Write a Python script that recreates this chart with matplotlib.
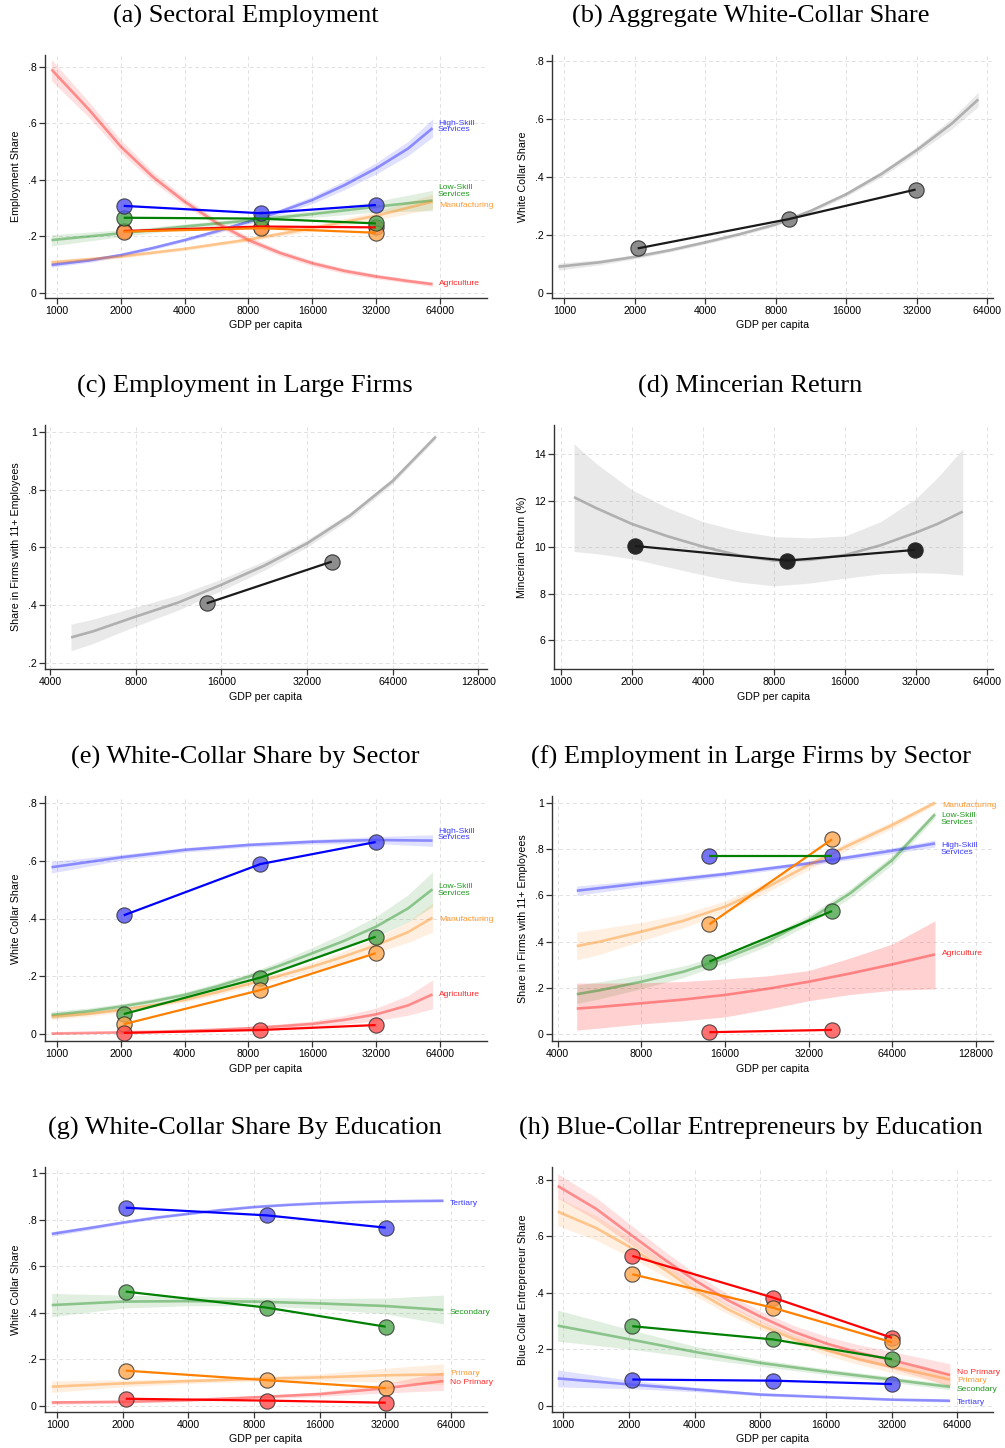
import numpy as np
import matplotlib.pyplot as plt
from matplotlib.ticker import NullLocator

plt.rcParams["font.family"] = ["Liberation Sans", "DejaVu Sans"]

W, H = 1005, 1448

BLUE, GREEN, ORANGE, RED = "#0000ff", "#008000", "#ff8000", "#ff0000"
GRAY = "#8a8a8a"

# ---------------- data ----------------
# fitted curves are read at half-doubling steps of GDP per capita
half_steps = [1414, 2000, 2828, 4000, 5657, 8000, 11314, 16000, 22627, 32000, 45255]

# (a) Sectoral employment
a_bins = [2064, 9145, 31900]
a_hs = [0.307, 0.281, 0.310]
a_ls = [0.265, 0.262, 0.245]
a_mf = [0.216, 0.228, 0.212]
a_ag = [0.218, 0.234, 0.231]
a_fx = [941, 2000, 4000, 8000, 16000, 32000, 59000]
a_fx2 = [941] + half_steps + [59000]
a_ag_fit = [0.790, 0.648, 0.517, 0.410, 0.322, 0.247, 0.186, 0.140, 0.104, 0.077, 0.057, 0.041, 0.030]
a_ag_lo = [0.750, 0.620, 0.495, 0.393, 0.308, 0.236, 0.175, 0.130, 0.094, 0.068, 0.049, 0.034, 0.022]
a_ag_hi = [0.825, 0.675, 0.540, 0.428, 0.337, 0.259, 0.198, 0.150, 0.114, 0.086, 0.066, 0.049, 0.038]
a_hs_fit = [0.098, 0.114, 0.133, 0.158, 0.186, 0.217, 0.251, 0.287, 0.328, 0.380, 0.440, 0.510, 0.582]
a_hs_lo = [0.090, 0.107, 0.127, 0.152, 0.180, 0.210, 0.243, 0.277, 0.315, 0.364, 0.420, 0.485, 0.550]
a_hs_hi = [0.106, 0.121, 0.139, 0.164, 0.193, 0.224, 0.259, 0.297, 0.341, 0.396, 0.460, 0.535, 0.615]
a_ls_fit = [0.186, 0.210, 0.234, 0.255, 0.278, 0.304, 0.326]
a_ls_lo = [0.165, 0.198, 0.225, 0.246, 0.266, 0.285, 0.290]
a_ls_hi = [0.205, 0.222, 0.243, 0.264, 0.290, 0.323, 0.362]
a_mf_fit = [0.107, 0.128, 0.155, 0.188, 0.228, 0.272, 0.322]
a_mf_lo = [0.099, 0.122, 0.149, 0.181, 0.218, 0.257, 0.296]
a_mf_hi = [0.115, 0.134, 0.161, 0.195, 0.238, 0.287, 0.348]

# (b) Aggregate white-collar share
b_bins = [2057, 9075, 31630]
b_wc = [0.153, 0.254, 0.356]
b_fx = [943] + half_steps + [58600]
b_fit = [0.090, 0.105, 0.124, 0.147, 0.174, 0.203, 0.236, 0.283, 0.340, 0.410, 0.492, 0.584, 0.667]
b_lo = [0.078, 0.096, 0.117, 0.141, 0.168, 0.197, 0.230, 0.276, 0.332, 0.400, 0.480, 0.566, 0.642]
b_hi = [0.102, 0.114, 0.131, 0.153, 0.180, 0.209, 0.242, 0.290, 0.348, 0.420, 0.504, 0.602, 0.692]

# (c) Employment in large firms
c_bins = [14210, 39070]
c_lf = [0.407, 0.551]
c_fx = [4740, 5657, 8000, 11314, 16000, 22627, 32000, 45255, 64000, 90700]
c_fit = [0.289, 0.310, 0.361, 0.410, 0.471, 0.537, 0.614, 0.710, 0.830, 0.983]
c_lo = [0.243, 0.268, 0.328, 0.384, 0.451, 0.521, 0.601, 0.699, 0.820, 0.975]
c_hi = [0.335, 0.352, 0.394, 0.436, 0.491, 0.553, 0.627, 0.721, 0.840, 0.991]

# (d) Mincerian return
d_bins = [2064, 9113, 31640]
d_mr = [10.05, 9.42, 9.88]
d_fx = [1139, 1414, 2000, 2828, 4000, 5657, 8000, 11314, 16000, 22627, 32000, 39400, 50350]
d_fit = [12.15, 11.68, 11.00, 10.47, 10.02, 9.65, 9.42, 9.45, 9.66, 10.08, 10.63, 11.00, 11.53]
d_lo = [9.81, 9.72, 9.50, 9.15, 8.80, 8.50, 8.33, 8.45, 8.66, 8.85, 8.90, 8.88, 8.80]
d_hi = [14.45, 13.60, 12.47, 11.70, 11.10, 10.70, 10.45, 10.40, 10.48, 11.10, 12.10, 13.00, 14.22]

# (e) White-collar share by sector
e_bins = [2064, 9110, 31800]
e_hs = [0.411, 0.588, 0.664]
e_ls = [0.070, 0.196, 0.337]
e_mf = [0.035, 0.153, 0.280]
e_ag = [0.005, 0.015, 0.032]
e_fx = [941, 2000, 4000, 8000, 16000, 32000, 59000]
e_fx2 = [941] + half_steps + [59000]
e_hs_fit = [0.577, 0.611, 0.637, 0.654, 0.665, 0.671, 0.669]
e_hs_lo = [0.557, 0.601, 0.629, 0.647, 0.657, 0.659, 0.649]
e_hs_hi = [0.597, 0.621, 0.645, 0.661, 0.673, 0.683, 0.689]
e_ls_fit = [0.067, 0.080, 0.096, 0.114, 0.136, 0.165, 0.199, 0.238, 0.280, 0.323, 0.372, 0.435, 0.501]
e_ls_lo = [0.055, 0.069, 0.086, 0.104, 0.126, 0.154, 0.187, 0.223, 0.260, 0.296, 0.337, 0.388, 0.441]
e_ls_hi = [0.079, 0.091, 0.106, 0.124, 0.146, 0.176, 0.211, 0.253, 0.300, 0.350, 0.407, 0.482, 0.561]
e_mf_fit = [0.061, 0.071, 0.084, 0.100, 0.119, 0.145, 0.174, 0.203, 0.234, 0.269, 0.308, 0.353, 0.403]
e_mf_lo = [0.051, 0.062, 0.076, 0.092, 0.111, 0.136, 0.164, 0.191, 0.219, 0.250, 0.283, 0.317, 0.353]
e_mf_hi = [0.071, 0.080, 0.092, 0.108, 0.127, 0.154, 0.184, 0.215, 0.249, 0.288, 0.333, 0.389, 0.453]
e_ag_fit = [0.003, 0.005, 0.007, 0.009, 0.012, 0.016, 0.021, 0.028, 0.036, 0.050, 0.069, 0.100, 0.138]
e_ag_lo = [0.000, 0.002, 0.004, 0.006, 0.008, 0.011, 0.015, 0.020, 0.026, 0.035, 0.047, 0.066, 0.088]
e_ag_hi = [0.006, 0.008, 0.010, 0.012, 0.016, 0.021, 0.027, 0.036, 0.046, 0.065, 0.091, 0.134, 0.188]

# (f) Employment in large firms by sector
f_bins = [14050, 38810]
f_hs = [0.768, 0.768]
f_ls = [0.314, 0.532]
f_mf = [0.475, 0.842]
f_ag = [0.009, 0.019]
f_fx = [4681, 8000, 16000, 32000, 64000, 91100]
f_fx2 = [4681, 5657, 8000, 11314, 16000, 22627, 32000, 45255, 64000, 91100]
f_hs_fit = [0.620, 0.652, 0.692, 0.738, 0.793, 0.824]
f_hs_lo = [0.600, 0.638, 0.682, 0.728, 0.781, 0.809]
f_hs_hi = [0.640, 0.666, 0.702, 0.748, 0.805, 0.839]
f_mf_fit = [0.381, 0.400, 0.443, 0.490, 0.551, 0.635, 0.731, 0.820, 0.904, 1.000]
f_mf_lo = [0.321, 0.345, 0.403, 0.460, 0.526, 0.613, 0.711, 0.803, 0.889, 0.990]
f_mf_hi = [0.441, 0.455, 0.483, 0.520, 0.576, 0.657, 0.751, 0.837, 0.919, 1.010]
f_ls_fit = [0.173, 0.190, 0.227, 0.270, 0.328, 0.400, 0.494, 0.610, 0.753, 0.950]
f_ls_lo = [0.133, 0.153, 0.197, 0.245, 0.308, 0.380, 0.474, 0.590, 0.733, 0.935]
f_ls_hi = [0.213, 0.227, 0.257, 0.295, 0.348, 0.420, 0.514, 0.630, 0.773, 0.965]
f_ag_fit = [0.111, 0.118, 0.134, 0.150, 0.170, 0.196, 0.227, 0.263, 0.302, 0.345]
f_ag_lo = [0.018, 0.027, 0.045, 0.058, 0.075, 0.108, 0.145, 0.172, 0.190, 0.196]
f_ag_hi = [0.221, 0.221, 0.222, 0.228, 0.239, 0.252, 0.275, 0.330, 0.390, 0.490]

# (g) White-collar share by education
g_bins = [2060, 9144, 32170]
g_te = [0.852, 0.819, 0.766]
g_se = [0.491, 0.422, 0.340]
g_pr = [0.151, 0.110, 0.076]
g_np = [0.030, 0.022, 0.013]
g_fx = [942, 2000, 4000, 8000, 16000, 32000, 59200]
g_fx2 = [942] + half_steps + [59200]
g_te_fit = [0.739, 0.765, 0.788, 0.809, 0.826, 0.842, 0.855, 0.864, 0.871, 0.876, 0.879, 0.881, 0.882]
g_te_lo = [0.729, 0.757, 0.782, 0.803, 0.821, 0.837, 0.850, 0.859, 0.866, 0.871, 0.874, 0.876, 0.876]
g_te_hi = [0.749, 0.773, 0.794, 0.815, 0.831, 0.847, 0.860, 0.869, 0.876, 0.881, 0.884, 0.886, 0.888]
g_se_fit = [0.433, 0.448, 0.450, 0.448, 0.440, 0.429, 0.412]
g_se_lo = [0.383, 0.420, 0.430, 0.430, 0.418, 0.395, 0.352]
g_se_hi = [0.483, 0.476, 0.470, 0.466, 0.462, 0.463, 0.476]
g_pr_fit = [0.082, 0.096, 0.106, 0.115, 0.122, 0.131, 0.135]
g_pr_lo = [0.057, 0.081, 0.096, 0.105, 0.107, 0.101, 0.090]
g_pr_hi = [0.107, 0.111, 0.116, 0.125, 0.137, 0.161, 0.180]
g_np_fit = [0.014, 0.017, 0.024, 0.036, 0.050, 0.075, 0.106]
g_np_lo = [0.006, 0.011, 0.018, 0.029, 0.040, 0.055, 0.066]
g_np_hi = [0.022, 0.023, 0.030, 0.043, 0.060, 0.095, 0.146]

# (h) Blue-collar entrepreneurs by education
h_bins = [2072, 9176, 32100]
h_np = [0.531, 0.383, 0.241]
h_pr = [0.466, 0.347, 0.225]
h_se = [0.282, 0.235, 0.165]
h_te = [0.093, 0.089, 0.077]
h_fx = [942, 2000, 4000, 8000, 16000, 32000, 59250]
h_fx2 = [942] + half_steps + [59250]
h_np_fit = [0.779, 0.698, 0.611, 0.525, 0.445, 0.375, 0.316, 0.263, 0.221, 0.188, 0.162, 0.133, 0.109]
h_np_lo = [0.736, 0.658, 0.576, 0.495, 0.420, 0.353, 0.296, 0.241, 0.196, 0.160, 0.132, 0.098, 0.069]
h_np_hi = [0.822, 0.738, 0.646, 0.555, 0.470, 0.397, 0.336, 0.285, 0.246, 0.216, 0.192, 0.168, 0.149]
h_pr_fit = [0.688, 0.630, 0.564, 0.490, 0.410, 0.343, 0.286, 0.237, 0.197, 0.165, 0.138, 0.113, 0.093]
h_pr_lo = [0.638, 0.587, 0.529, 0.463, 0.390, 0.326, 0.271, 0.221, 0.179, 0.146, 0.118, 0.093, 0.073]
h_pr_hi = [0.738, 0.673, 0.599, 0.517, 0.430, 0.360, 0.301, 0.253, 0.215, 0.184, 0.158, 0.133, 0.113]
h_se_fit = [0.284, 0.236, 0.191, 0.152, 0.121, 0.093, 0.067]
h_se_lo = [0.229, 0.201, 0.171, 0.140, 0.111, 0.083, 0.057]
h_se_hi = [0.339, 0.271, 0.211, 0.164, 0.131, 0.103, 0.077]
h_te_fit = [0.097, 0.076, 0.058, 0.040, 0.031, 0.022, 0.018]
h_te_lo = [0.067, 0.061, 0.050, 0.035, 0.027, 0.018, 0.013]
h_te_hi = [0.127, 0.091, 0.066, 0.045, 0.035, 0.026, 0.023]

x_ticks_low = [1000, 2000, 4000, 8000, 16000, 32000, 64000]
x_ticks_high = [4000, 8000, 16000, 32000, 64000, 128000]
share_ticks = [0, 0.2, 0.4, 0.6, 0.8, 1.0]
share_labels = ["0", ".2", ".4", ".6", ".8", "1"]

fig = plt.figure(figsize=(W / 100, H / 100), dpi=100)


def make_axes(box, xlim, xticks, ylim, yticks, ylabels, ylabel):
    left, top, right, bottom = box
    ax = fig.add_axes([left / W, 1 - bottom / H, (right - left) / W, (bottom - top) / H])
    ax.set_xscale("log", base=2)
    ax.set_xlim(xlim)
    ax.set_ylim(ylim)
    ax.set_xticks(xticks)
    ax.set_xticklabels([str(t) for t in xticks])
    ax.xaxis.set_minor_locator(NullLocator())
    ax.set_yticks(yticks)
    ax.set_yticklabels(ylabels)
    ax.set_xlabel("GDP per capita", fontsize=7.7, labelpad=3)
    ax.set_ylabel(ylabel, fontsize=7.7, labelpad=5)
    ax.tick_params(labelsize=7.6, length=4, width=0.9, color="#333333", direction="out", pad=2)
    for s in ["top", "right"]:
        ax.spines[s].set_visible(False)
    for s in ["left", "bottom"]:
        ax.spines[s].set_color("#333333")
        ax.spines[s].set_linewidth(1.0)
    ax.grid(True, color="#e2e2e2", linestyle=(0, (4, 3)), linewidth=0.7)
    ax.set_axisbelow(True)
    return ax


def draw_fit(ax, x, fit, lo, hi, color, line_alpha=0.38, band_alpha=0.12):
    ax.fill_between(x, lo, hi, color=color, alpha=band_alpha, linewidth=0, zorder=1)
    ax.plot(x, fit, color=color, alpha=line_alpha, linewidth=1.9, zorder=2,
            solid_capstyle="butt", solid_joinstyle="round")


def draw_bins(ax, x, y, color, face, z, line_color=None, face_alpha=0.6):
    ax.plot(x, y, linestyle="none", marker="o", markersize=11,
            markerfacecolor=face, markeredgecolor="#2a2a2a", markeredgewidth=0.8,
            alpha=face_alpha + 0.2, zorder=z)
    ax.plot(x, y, color=line_color or color, linewidth=1.6, zorder=z + 0.5,
            solid_capstyle="butt")


def label(ax, x, y, text, color):
    ax.text(x, y, text, color=color, fontsize=6.1, ha="left", va="center",
            linespacing=0.95, zorder=6)


LBL_BLUE, LBL_GREEN, LBL_ORANGE, LBL_RED = "#3a3aff", "#229922", "#ff9933", "#ff2a2a"
FACE_BLUE, FACE_GREEN, FACE_ORANGE, FACE_RED = "#5050f0", "#4ca64c", "#ffa64d", "#ff4d4d"

# (a)
ax = make_axes((45, 55, 487, 298), (878, 106600), x_ticks_low, (-0.019, 0.841),
               share_ticks[:5], share_labels[:5], "Employment Share")
draw_fit(ax, a_fx2, a_ag_fit, a_ag_lo, a_ag_hi, RED)
draw_fit(ax, a_fx2, a_hs_fit, a_hs_lo, a_hs_hi, BLUE)
draw_fit(ax, a_fx, a_ls_fit, a_ls_lo, a_ls_hi, GREEN)
draw_fit(ax, a_fx, a_mf_fit, a_mf_lo, a_mf_hi, ORANGE)
draw_bins(ax, a_bins, a_ag, RED, FACE_RED, 3)
draw_bins(ax, a_bins, a_mf, ORANGE, FACE_ORANGE, 3.1)
draw_bins(ax, a_bins, a_ls, GREEN, FACE_GREEN, 3.2)
draw_bins(ax, a_bins, a_hs, BLUE, FACE_BLUE, 3.3)
label(ax, 62600, 0.588, "High-Skill\nServices", LBL_BLUE)
label(ax, 62600, 0.360, "Low-Skill\nServices", LBL_GREEN)
label(ax, 63500, 0.310, "Manufacturing", LBL_ORANGE)
label(ax, 63500, 0.031, "Agriculture", LBL_RED)

# (b)
ax = make_axes((552, 55, 993, 298), (886, 67700), x_ticks_low, (-0.018, 0.820),
               share_ticks[:5], share_labels[:5], "White Collar Share")
draw_fit(ax, b_fx, b_fit, b_lo, b_hi, GRAY, line_alpha=0.6, band_alpha=0.18)
draw_bins(ax, b_bins, b_wc, "#1a1a1a", "#808080", 3, face_alpha=0.7)

# (c)
ax = make_axes((45, 425, 487, 669), (3840, 137200), x_ticks_high, (0.180, 1.023),
               share_ticks[1:], share_labels[1:], "Share in Firms with 11+ Employees")
draw_fit(ax, c_fx, c_fit, c_lo, c_hi, GRAY, line_alpha=0.6, band_alpha=0.18)
draw_bins(ax, c_bins, c_lf, "#1a1a1a", "#808080", 3, face_alpha=0.7)

# (d)
ax = make_axes((554, 425, 993, 669), (937, 67630), x_ticks_low, (4.75, 15.26),
               [6, 8, 10, 12, 14], ["6", "8", "10", "12", "14"], "Mincerian Return (%)")
draw_fit(ax, d_fx, d_fit, d_lo, d_hi, GRAY, line_alpha=0.6, band_alpha=0.18)
draw_bins(ax, d_bins, d_mr, "#1a1a1a", "#262626", 3, face_alpha=0.8)

# (e)
ax = make_axes((45, 796, 487, 1041), (878, 106600), x_ticks_low, (-0.023, 0.823),
               share_ticks[:5], share_labels[:5], "White Collar Share")
draw_fit(ax, e_fx, e_hs_fit, e_hs_lo, e_hs_hi, BLUE)
draw_fit(ax, e_fx2, e_ls_fit, e_ls_lo, e_ls_hi, GREEN)
draw_fit(ax, e_fx2, e_mf_fit, e_mf_lo, e_mf_hi, ORANGE)
draw_fit(ax, e_fx2, e_ag_fit, e_ag_lo, e_ag_hi, RED)
draw_bins(ax, e_bins, e_hs, BLUE, FACE_BLUE, 3)
draw_bins(ax, e_bins, e_ls, GREEN, FACE_GREEN, 3.1)
draw_bins(ax, e_bins, e_mf, ORANGE, FACE_ORANGE, 3.2)
draw_bins(ax, e_bins, e_ag, RED, FACE_RED, 3.3)
label(ax, 62600, 0.690, "High-Skill\nServices", LBL_BLUE)
label(ax, 62600, 0.498, "Low-Skill\nServices", LBL_GREEN)
label(ax, 63500, 0.398, "Manufacturing", LBL_ORANGE)
label(ax, 63500, 0.139, "Agriculture", LBL_RED)

# (f)
ax = make_axes((552, 796, 993, 1041), (3815, 147300), x_ticks_high, (-0.029, 1.029),
               share_ticks, share_labels, "Share in Firms with 11+ Employees")
draw_fit(ax, f_fx, f_hs_fit, f_hs_lo, f_hs_hi, BLUE)
draw_fit(ax, f_fx2, f_mf_fit, f_mf_lo, f_mf_hi, ORANGE)
draw_fit(ax, f_fx2, f_ls_fit, f_ls_lo, f_ls_hi, GREEN)
draw_fit(ax, f_fx2, f_ag_fit, f_ag_lo, f_ag_hi, RED, band_alpha=0.18)
draw_bins(ax, f_bins, f_ag, RED, FACE_RED, 3)
draw_bins(ax, f_bins, f_mf, ORANGE, FACE_ORANGE, 3.1)
draw_bins(ax, f_bins, f_hs, BLUE, FACE_BLUE, 3.2, line_color=GREEN)
draw_bins(ax, f_bins, f_ls, GREEN, FACE_GREEN, 3.3)
label(ax, 96500, 0.990, "Manufacturing", LBL_ORANGE)
label(ax, 95600, 0.930, "Low-Skill\nServices", LBL_GREEN)
label(ax, 95600, 0.800, "High-Skill\nServices", LBL_BLUE)
label(ax, 96500, 0.351, "Agriculture", LBL_RED)

# (g)
ax = make_axes((45, 1167, 487, 1412), (878, 93900), x_ticks_low, (-0.027, 1.027),
               share_ticks, share_labels, "White Collar Share")
draw_fit(ax, g_fx2, g_te_fit, g_te_lo, g_te_hi, BLUE)
draw_fit(ax, g_fx, g_se_fit, g_se_lo, g_se_hi, GREEN)
draw_fit(ax, g_fx, g_pr_fit, g_pr_lo, g_pr_hi, ORANGE)
draw_fit(ax, g_fx, g_np_fit, g_np_lo, g_np_hi, RED)
draw_bins(ax, g_bins, g_te, BLUE, FACE_BLUE, 3)
draw_bins(ax, g_bins, g_se, GREEN, FACE_GREEN, 3.1)
draw_bins(ax, g_bins, g_pr, ORANGE, FACE_ORANGE, 3.2)
draw_bins(ax, g_bins, g_np, RED, FACE_RED, 3.3)
label(ax, 63400, 0.868, "Tertiary", LBL_BLUE)
label(ax, 63400, 0.399, "Secondary", LBL_GREEN)
label(ax, 63400, 0.140, "Primary", LBL_ORANGE)
label(ax, 63400, 0.102, "No Primary", LBL_RED)

# (h)
ax = make_axes((552, 1167, 993, 1412), (888, 93300), x_ticks_low, (-0.022, 0.846),
               share_ticks[:5], share_labels[:5], "Blue Collar Entrepreneur Share")
draw_fit(ax, h_fx2, h_np_fit, h_np_lo, h_np_hi, RED)
draw_fit(ax, h_fx2, h_pr_fit, h_pr_lo, h_pr_hi, ORANGE)
draw_fit(ax, h_fx, h_se_fit, h_se_lo, h_se_hi, GREEN)
draw_fit(ax, h_fx, h_te_fit, h_te_lo, h_te_hi, BLUE)
draw_bins(ax, h_bins, h_te, BLUE, FACE_BLUE, 3)
draw_bins(ax, h_bins, h_se, GREEN, FACE_GREEN, 3.1)
draw_bins(ax, h_bins, h_np, RED, FACE_RED, 3.2)
draw_bins(ax, h_bins, h_pr, ORANGE, FACE_ORANGE, 3.3)
label(ax, 63800, 0.119, "No Primary", LBL_RED)
label(ax, 63800, 0.091, "Primary", LBL_ORANGE)
label(ax, 63800, 0.059, "Secondary", LBL_GREEN)
label(ax, 63800, 0.010, "Tertiary", LBL_BLUE)

titles = [
    ("(a) Sectoral Employment", 246, 16), ("(b) Aggregate White-Collar Share", 751, 16),
    ("(c) Employment in Large Firms", 245, 386), ("(d) Mincerian Return", 750, 386),
    ("(e) White-Collar Share by Sector", 245, 757),
    ("(f) Employment in Large Firms by Sector", 751, 757),
    ("(g) White-Collar Share By Education", 245, 1128),
    ("(h) Blue-Collar Entrepreneurs by Education", 751, 1128),
]
for text, cx, cy in titles:
    fig.text(cx / W, 1 - cy / H, text, ha="center", va="center", fontsize=19,
             family=["Liberation Serif", "DejaVu Serif"])

fig.savefig("out.png", dpi=100)
